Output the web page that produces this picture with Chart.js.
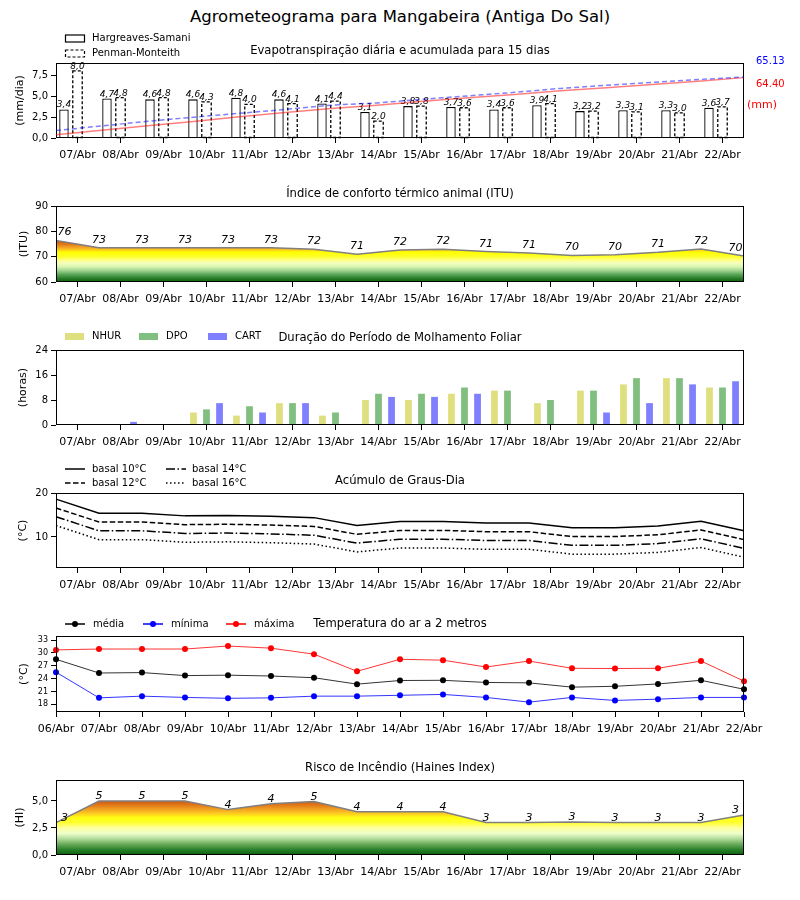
<!DOCTYPE html>
<html>
<head>
<meta charset="utf-8">
<script src="https://cdn.jsdelivr.net/npm/chart.js@4.4.1/dist/chart.umd.min.js"></script>
<style>
  body { margin: 0; background: #fff; }
  #page { position: relative; width: 800px; height: 900px; font-family: "DejaVu Sans"; }
  #page canvas { position: absolute; left: 0; }
  #titulo { position: absolute; top: 7px; width: 800px; line-height: 20px; text-align: center; font-size: 16.5px; color: #000; }
</style>
</head>
<body>
<div id="page">
  <div id="titulo">Agrometeograma para Mangabeira (Antiga Do Sal)</div>
  <canvas id="etp"></canvas>
  <canvas id="etpAcum"></canvas>
  <canvas id="itu"></canvas>
  <canvas id="molh"></canvas>
  <canvas id="gd"></canvas>
  <canvas id="temp"></canvas>
  <canvas id="haines"></canvas>
</div>
<script>
// categorias
const dias16 = ['07/Abr', '08/Abr', '09/Abr', '10/Abr', '11/Abr', '12/Abr', '13/Abr', '14/Abr',
                '15/Abr', '16/Abr', '17/Abr', '18/Abr', '19/Abr', '20/Abr', '21/Abr', '22/Abr'];
const dias17 = ['06/Abr', ...dias16];

// evapotranspiracao (mm/dia) e acumulada (mm)
const etpHS = [3.4, 4.7, 4.6, 4.6, 4.8, 4.6, 4.1, 3.1, 3.8, 3.7, 3.4, 3.9, 3.2, 3.3, 3.3, 3.6];
const etpPM = [8.0, 4.8, 4.8, 4.3, 4.0, 4.1, 4.4, 2.0, 3.8, 3.6, 3.6, 4.1, 3.2, 3.1, 3.0, 3.7];
const etpHSacum = [3.4, 8.3, 13.0, 17.7, 22.6, 27.3, 31.5, 35.0, 39.2, 43.0, 46.4, 50.4, 53.6, 57.0, 60.5, 64.4];
const etpPMacum = [8.0, 12.9, 17.8, 22.2, 26.3, 30.5, 35.0, 37.4, 41.3, 45.0, 48.7, 52.9, 56.2, 59.3, 62.3, 65.13];
const etpTicks = [0, 2.5, 5, 7.5];

// ITU
const itu = [76.4, 73.5, 73.5, 73.5, 73.5, 73.5, 72.9, 71.0, 72.6, 72.9, 72.0, 71.4, 70.5, 70.8, 71.7, 73.0, 70.3];
const ituLabels = [76, 73, 73, 73, 73, 73, 72, 71, 72, 72, 71, 71, 70, 70, 71, 72, 70];
const ituTicks = [60, 70, 80, 90];

// molhamento foliar (horas)
const nhur = [0, 0, 0, 4, 3, 7, 3, 8, 8, 10, 11, 7, 11, 13, 15, 12];
const dpo  = [0, 0, 0, 5, 6, 7, 4, 10, 10, 12, 11, 8, 11, 15, 15, 12];
const cart = [0, 1, 0, 7, 4, 7, 0, 9, 9, 10, 0, 0, 4, 7, 13, 14];
const molhTicks = [0, 8, 16, 24];

// graus-dia
const gd10 = [18.6, 15.4, 15.4, 14.8, 14.9, 14.7, 14.4, 12.6, 13.5, 13.5, 13.2, 13.2, 12.1, 12.1, 12.5, 13.6, 11.4];
const gd12 = [16.6, 13.4, 13.4, 12.8, 12.9, 12.7, 12.4, 10.6, 11.5, 11.5, 11.2, 11.2, 10.1, 10.1, 10.5, 11.6, 9.4];
const gd14 = [14.6, 11.4, 11.4, 10.8, 10.9, 10.7, 10.4, 8.6, 9.5, 9.5, 9.2, 9.2, 8.1, 8.1, 8.5, 9.6, 7.4];
const gd16 = [12.6, 9.4, 9.4, 8.8, 8.9, 8.7, 8.4, 6.6, 7.5, 7.5, 7.2, 7.2, 6.1, 6.1, 6.5, 7.6, 5.4];
const gdTicks = [10, 20];

// temperatura do ar (C)
const tMedia = [28.5, 25.3, 25.4, 24.7, 24.8, 24.6, 24.2, 22.7, 23.55, 23.6, 23.1, 23.0, 22.0, 22.2, 22.75, 23.6, 21.5];
const tMin   = [25.5, 19.5, 19.9, 19.6, 19.4, 19.5, 19.9, 19.9, 20.1, 20.3, 19.6, 18.5, 19.6, 18.9, 19.2, 19.6, 19.6];
const tMax   = [30.7, 30.9, 30.9, 30.9, 31.6, 31.1, 29.7, 25.7, 28.5, 28.3, 26.7, 28.1, 26.4, 26.35, 26.4, 28.1, 23.4];
const tempTicks = [18, 21, 24, 27, 30, 33];

// Haines
const haines = [3.0, 5.0, 5.0, 5.0, 4.2, 4.75, 4.95, 4.0, 4.0, 4.0, 3.0, 3.0, 3.05, 3.0, 3.0, 3.0, 3.7];
const hainesLabels = [3, 5, 5, 5, 4, 4, 5, 4, 4, 4, 3, 3, 3, 3, 3, 3, 3];
const hainesTicks = [0, 2.5, 5];

Chart.defaults.font.family = 'DejaVu Sans';
Chart.defaults.color = '#000';

const PAD_TOP = 36;
const AXIS_H = 26;
const virgula = v => v.toFixed(1).replace('.', ',');

function placeCanvas(id, plotTop, plotBottom) {
  const c = document.getElementById(id);
  c.width = 800;
  c.height = PAD_TOP + (plotBottom - plotTop) + AXIS_H;
  c.style.top = (plotTop - PAD_TOP) + 'px';
  return c;
}

function xCat(labels, offset) {
  return {
    type: 'category', labels: labels, offset: offset,
    grid: { drawOnChartArea: false, drawTicks: true, tickLength: 5, tickColor: '#000', offset: false },
    border: { display: false },
    ticks: { color: '#000', font: { size: 11 }, padding: 6, maxRotation: 0, autoSkip: false },
    afterFit: s => { s.height = AXIS_H; }
  };
}

function xHidden(labels) {
  return { type: 'category', labels: labels, offset: false, display: false };
}

function yLin(min, max, ticks, fmt, size) {
  return {
    type: 'linear', min: min, max: max,
    grid: { drawOnChartArea: false, drawTicks: true, tickLength: 5, tickColor: '#000' },
    border: { display: false },
    ticks: { color: '#000', font: { size: size || 10 }, padding: 3, callback: fmt || (v => String(v)) },
    afterBuildTicks: s => { s.ticks = ticks.map(v => ({ value: v })); },
    afterFit: s => { s.width = 50; }
  };
}

function baseOptions(scales) {
  return {
    responsive: false,
    animation: false,
    layout: { padding: { left: 6, right: 56, top: PAD_TOP, bottom: 0 } },
    plugins: { legend: { display: false }, tooltip: { enabled: false }, title: { display: false } },
    scales: scales
  };
}

function txt(ctx, s, x, y, opt) {
  opt = opt || {};
  ctx.save();
  ctx.font = opt.font || '10px "DejaVu Sans"';
  ctx.fillStyle = opt.color || '#000';
  ctx.textAlign = opt.align || 'left';
  ctx.textBaseline = opt.base || 'middle';
  ctx.fillText(s, x, y);
  ctx.restore();
}

function legLine(ctx, x0, x1, y, color, dash, marker) {
  ctx.save();
  ctx.strokeStyle = color;
  ctx.lineWidth = 1.5;
  ctx.setLineDash(dash || []);
  ctx.beginPath(); ctx.moveTo(x0, y); ctx.lineTo(x1, y); ctx.stroke();
  if (marker) {
    ctx.fillStyle = color;
    ctx.beginPath(); ctx.arc((x0 + x1) / 2, y, 3, 0, Math.PI * 2); ctx.fill();
  }
  ctx.restore();
}

// titulo, rotulo do eixo y, moldura e extras
function deco(titulo, yLabel, yLabelX, extra) {
  return {
    id: 'deco',
    afterDraw(chart) {
      const { ctx, chartArea: a } = chart;
      ctx.save();
      ctx.strokeStyle = '#000';
      ctx.lineWidth = 1;
      ctx.strokeRect(a.left + 0.5, a.top + 0.5, a.right - a.left - 1, a.bottom - a.top - 1);
      ctx.restore();
      txt(ctx, titulo, (a.left + a.right) / 2, a.top - 12.5, { font: '11.6px "DejaVu Sans"', align: 'center' });
      ctx.save();
      ctx.translate(yLabelX, (a.top + a.bottom) / 2);
      ctx.rotate(-Math.PI / 2);
      txt(ctx, yLabel, 0, 0, { font: '11px "DejaVu Sans"', align: 'center' });
      ctx.restore();
      if (extra) extra(chart, ctx, a);
    }
  };
}

function pointLabels(chart, ctx, a, labels, lift) {
  const meta = chart.getDatasetMeta(0);
  meta.data.forEach((pt, i) => {
    const x = Math.min(Math.max(pt.x, a.left + 8.5), a.right - 8.5);
    txt(ctx, String(labels[i]), x, pt.y - lift, { font: 'italic 11px "DejaVu Sans"', align: 'center', base: 'alphabetic' });
  });
}

function gradiente(stops) {
  return (context) => {
    const chart = context.chart;
    const a = chart.chartArea;
    if (!a) return null;
    const y = chart.scales.y;
    const g = chart.ctx.createLinearGradient(0, a.bottom, 0, a.top);
    stops.forEach(([v, c]) => {
      const p = (a.bottom - y.getPixelForValue(v)) / (a.bottom - a.top);
      g.addColorStop(Math.min(1, Math.max(0, p)), c);
    });
    return g;
  };
}

// 1. Evapotranspiracao diaria (barras); a terceira serie vazia deixa a PM centrada no dia
const barEtp = { categoryPercentage: 0.944, barPercentage: 0.7 };
new Chart(placeCanvas('etp', 63, 138), {
  type: 'bar',
  data: {
    labels: dias16,
    datasets: [
      { ...barEtp, label: 'Hargreaves-Samani', data: etpHS, backgroundColor: '#fff', borderColor: '#000', borderWidth: 1.3 },
      { ...barEtp, label: 'Penman-Monteith', data: etpPM, backgroundColor: '#fff', borderWidth: 0 },
      { ...barEtp, data: etpHS.map(() => null) }
    ]
  },
  options: baseOptions({
    x: xCat(dias16, true),
    y: yLin(0, 8.93, etpTicks, virgula)
  }),
  plugins: [{
    id: 'tracejado',
    afterDatasetsDraw(chart) {
      const ctx = chart.ctx;
      ctx.save();
      ctx.strokeStyle = '#000';
      ctx.lineWidth = 1.3;
      ctx.setLineDash([3, 2]);
      chart.getDatasetMeta(1).data.forEach(bar => {
        const { x, y, base, width } = bar.getProps(['x', 'y', 'base', 'width'], true);
        ctx.strokeRect(x - width / 2, y, width, base - y);
      });
      ctx.restore();
    }
  }, deco('Evapotranspiração diária e acumulada para 15 dias', '(mm/dia)', 20, (chart, ctx, a) => {
    [0, 1].forEach(di => {
      chart.getDatasetMeta(di).data.forEach((bar, i) => {
        txt(ctx, virgula(chart.data.datasets[di].data[i]), bar.x, bar.y - 2,
            { font: 'italic 9px "DejaVu Sans"', align: 'center', base: 'alphabetic' });
      });
    });
    ctx.save();
    ctx.strokeStyle = '#000';
    ctx.lineWidth = 1.2;
    ctx.strokeRect(65.5, a.top - 28, 19, 7);
    ctx.setLineDash([3, 2]);
    ctx.strokeRect(65.5, a.top - 13, 19, 7);
    ctx.restore();
    txt(ctx, 'Hargreaves-Samani', 92, a.top - 24.5);
    txt(ctx, 'Penman-Monteith', 92, a.top - 9.5);
    txt(ctx, '65.13', 756, a.top - 2, { color: '#0000ff' });
    txt(ctx, '64.40', 756, a.top + 21, { color: '#ff0000' });
    txt(ctx, '(mm)', 747, a.top + 42.5, { color: '#ff0000', font: '11px "DejaVu Sans"' });
  })]
});

// 1b. acumulada, em camada por cima das barras (eixos ocultos, mesma area)
new Chart(placeCanvas('etpAcum', 63, 138), {
  type: 'line',
  data: {
    labels: dias16,
    datasets: [
      { data: etpPMacum, borderColor: 'rgba(0,0,255,0.5)', borderWidth: 1.5, borderDash: [5, 3], pointRadius: 0, fill: false },
      { data: etpHSacum, borderColor: 'rgba(255,0,0,0.5)', borderWidth: 1.5, pointRadius: 0, fill: false }
    ]
  },
  options: {
    responsive: false,
    animation: false,
    layout: { padding: { left: 56, right: 56, top: PAD_TOP, bottom: AXIS_H } },
    plugins: { legend: { display: false }, tooltip: { enabled: false } },
    scales: {
      x: { type: 'category', offset: false, display: false },
      y: { type: 'linear', min: 0, max: 80, display: false }
    }
  }
});

// 2. ITU
new Chart(placeCanvas('itu', 206, 282), {
  type: 'line',
  data: {
    datasets: [{
      data: itu, xAxisID: 'xp', fill: 'start', borderColor: '#808080', borderWidth: 1.5, pointRadius: 0,
      backgroundColor: gradiente([[60, '#0b5e0b'], [61.5, '#2a7f2a'], [63, '#5aa65a'], [64.5, '#9fd38f'],
        [66, '#d8f5b0'], [67.5, '#f5ffc0'], [68.5, '#ffff8c'], [70, '#ffff2a'], [71.8, '#ffff00'],
        [72.6, '#ffcf1a'], [73.6, '#f3a526'], [75, '#e07414'], [77, '#c84a00']])
    }]
  },
  options: baseOptions({ x: xCat(dias16, true), xp: xHidden(dias17), y: yLin(60, 90, ituTicks) }),
  plugins: [deco('Índice de conforto térmico animal (ITU)', '(ITU)', 24,
    (chart, ctx, a) => pointLabels(chart, ctx, a, ituLabels, 5))]
});

// 3. Molhamento foliar
const barMolh = { categoryPercentage: 0.91, barPercentage: 0.52, borderWidth: 0 };
new Chart(placeCanvas('molh', 350, 425), {
  type: 'bar',
  data: {
    labels: dias16,
    datasets: [
      { ...barMolh, label: 'NHUR', data: nhur, backgroundColor: '#dfdf80' },
      { ...barMolh, label: 'DPO', data: dpo, backgroundColor: '#80bf80' },
      { ...barMolh, label: 'CART', data: cart, backgroundColor: '#8080ff' }
    ]
  },
  options: baseOptions({ x: xCat(dias16, true), y: yLin(0, 24, molhTicks) }),
  plugins: [deco('Duração do Período de Molhamento Foliar', '(horas)', 23, (chart, ctx, a) => {
    const itens = [['NHUR', '#dfdf80', 65], ['DPO', '#80bf80', 139], ['CART', '#8080ff', 208]];
    itens.forEach(([nome, cor, x]) => {
      ctx.fillStyle = cor;
      ctx.fillRect(x, a.top - 17, 19, 7);
      txt(ctx, nome, x + 27, a.top - 13.5);
    });
  })]
});

// 4. Graus-dia
const linhaGd = { xAxisID: 'xp', borderColor: '#000', borderWidth: 1.5, pointRadius: 0, fill: false };
new Chart(placeCanvas('gd', 493, 568), {
  type: 'line',
  data: {
    datasets: [
      { ...linhaGd, label: 'basal 10°C', data: gd10 },
      { ...linhaGd, label: 'basal 12°C', data: gd12, borderDash: [5.5, 2.5] },
      { ...linhaGd, label: 'basal 14°C', data: gd14, borderDash: [9, 2.5, 1.5, 2.5] },
      { ...linhaGd, label: 'basal 16°C', data: gd16, borderDash: [1.5, 2.5] }
    ]
  },
  options: baseOptions({ x: xCat(dias16, true), xp: xHidden(dias17), y: yLin(2.95, 20, gdTicks) }),
  plugins: [deco('Acúmulo de Graus-Dia', '(°C)', 23, (chart, ctx, a) => {
    legLine(ctx, 65, 85, a.top - 24, '#000');
    txt(ctx, 'basal 10°C', 92, a.top - 24);
    legLine(ctx, 65, 85, a.top - 10, '#000', [5.5, 2.5]);
    txt(ctx, 'basal 12°C', 92, a.top - 10);
    legLine(ctx, 166, 186, a.top - 24, '#000', [9, 2.5, 1.5, 2.5]);
    txt(ctx, 'basal 14°C', 192, a.top - 24);
    legLine(ctx, 166, 186, a.top - 10, '#000', [1.5, 2.5]);
    txt(ctx, 'basal 16°C', 192, a.top - 10);
  })]
});

// 5. Temperatura
const linhaT = { borderWidth: 1, pointRadius: 3, pointBorderWidth: 0, fill: false };
new Chart(placeCanvas('temp', 636, 712), {
  type: 'line',
  data: {
    labels: dias17,
    datasets: [
      { ...linhaT, label: 'média', data: tMedia, borderColor: 'rgba(0,0,0,0.8)', pointBackgroundColor: '#000' },
      { ...linhaT, label: 'mínima', data: tMin, borderColor: 'rgba(0,0,255,0.8)', pointBackgroundColor: '#0000ff' },
      { ...linhaT, label: 'máxima', data: tMax, borderColor: 'rgba(255,0,0,0.8)', pointBackgroundColor: '#ff0000' }
    ]
  },
  options: baseOptions({ x: xCat(dias17, false), y: yLin(16.2, 33.94, tempTicks, null, 8) }),
  plugins: [deco('Temperatura do ar a 2 metros', '(°C)', 24, (chart, ctx, a) => {
    const itens = [['média', '#000', 65], ['mínima', '#0000ff', 143], ['máxima', '#ff0000', 226]];
    itens.forEach(([nome, cor, x]) => {
      legLine(ctx, x, x + 20, a.top - 12, cor, null, true);
      txt(ctx, nome, x + 28, a.top - 12);
    });
  })]
});

// 6. Haines
new Chart(placeCanvas('haines', 780, 855), {
  type: 'line',
  data: {
    datasets: [{
      data: haines, xAxisID: 'xp', fill: 'start', borderColor: '#808080', borderWidth: 1.5, pointRadius: 0,
      backgroundColor: gradiente([[0, '#0b5e0b'], [0.5, '#2a822a'], [1.0, '#6aaa5a'], [1.5, '#b2dc9a'],
        [2.0, '#eeffcc'], [2.5, '#ffffa0'], [3.0, '#ffff30'], [3.45, '#ffff10'], [3.8, '#ffd020'],
        [4.2, '#f2a422'], [4.6, '#e27a18'], [5.0, '#cc5a10']])
    }]
  },
  options: baseOptions({ x: xCat(dias16, true), xp: xHidden(dias17), y: yLin(0, 6.94, hainesTicks, virgula) }),
  plugins: [deco('Risco de Incêndio (Haines Index)', '(HI)', 20,
    (chart, ctx, a) => pointLabels(chart, ctx, a, hainesLabels, 2))]
});
</script>
</body>
</html>
